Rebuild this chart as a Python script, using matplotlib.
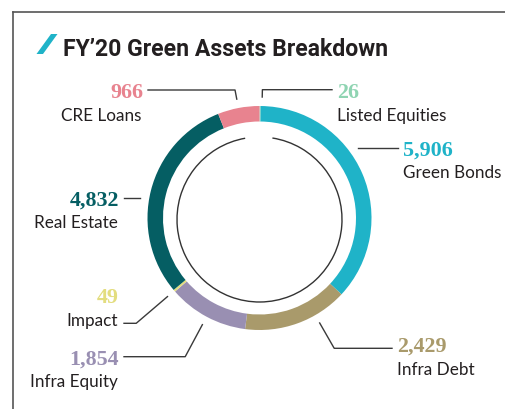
import numpy as np
import matplotlib
matplotlib.use("Agg")
import matplotlib.pyplot as plt
from matplotlib.patches import Arc, Polygon
from matplotlib.lines import Line2D

# ---- data ----
categories = ["Listed Equities", "Green Bonds", "Infra Debt", "Infra Equity",
              "Impact", "Real Estate", "CRE Loans"]
values = [26, 5906, 2429, 1854, 49, 4832, 966]
value_labels = ["26", "5,906", "2,429", "1,854", "49", "4,832", "966"]
colors = ["#8fd4b2", "#1fb3c8", "#a99a6b", "#998fb2", "#e3dd7f", "#055e63", "#e8838f"]
title = "FY\u201920 Green Assets Breakdown"

# ---- layout (pixel coordinates, y from top) ----
W, H = 505, 410
cx, cy = 259.5, 219.0
r_out, ring_w = 112.0, 15.5
r_inner_line = 82.5
r_anchor = 121.0
# side, text x, number baseline, label baseline, leader y, leader kind, angle offset
layout = {
    "Listed Equities": ("left", 337, 97.5, 120.7, 90.7, "radial", 1.0),
    "Green Bonds":     ("left", 403, 156.0, 178.5, 149.0, "flat", 0),
    "Infra Debt":      ("left", 397, 351.7, 375.0, 349.3, "radial", -10.0),
    "Infra Equity":    ("right", 119, 364.3, 386.7, 357.7, "radial", 0),
    "Impact":          ("right", 119, 303.3, 326.0, 324.3, "radial", 0),
    "Real Estate":     ("right", 119, 206.0, 228.3, 199.3, "flat", 0),
    "CRE Loans":       ("right", 143, 97.7, 120.7, 91.0, "radial", 0),
}

fig = plt.figure(figsize=(W / 100, H / 100), dpi=100)
ax = fig.add_axes([0, 0, 1, 1])

wedges, _ = ax.pie(values, colors=colors, startangle=-90, counterclock=True,
                   radius=r_out, center=(cx, cy),
                   wedgeprops=dict(width=ring_w, linewidth=0))
ax.set_xlim(0, W)
ax.set_ylim(H, 0)
ax.set_aspect("auto")
ax.axis("off")

# inner thin arc with a gap at the top
ax.add_patch(Arc((cx, cy + 1.5), 2 * r_inner_line, 2 * r_inner_line,
                 theta1=279, theta2=620, color="#333333", lw=1.0))

# frame lines
ax.add_line(Line2D([12.5, W], [12.5, 12.5], color="#555555", lw=1.2))
ax.add_line(Line2D([12.5, 12.5], [12.5, H], color="#555555", lw=1.2))

# title with slash mark
ax.add_patch(Polygon([(36.5, 55), (43, 55), (57.5, 35), (51, 35)], closed=True,
                     color="#1fb3c8", lw=0))
ax.text(63, 56, title, fontsize=16.6, fontweight="bold", family="Roboto",
        color="#231f20", ha="left", va="baseline")

num_font = dict(family="Liberation Serif", fontweight="bold", fontsize=15.8)
lab_font = dict(family="Lato", fontsize=12.3, color="#231f20")
line_col = "#3a3a3a"

for w, cat, vl, col in zip(wedges, categories, value_labels, colors):
    side, tx, ny, ly, ldy, kind, off = layout[cat]
    ha = "left" if side == "left" else "right"
    ax.text(tx, ny, vl, color=col, ha=ha, va="baseline", **num_font)
    ax.text(tx if side == "left" else tx - 1.5, ly, cat, ha=ha, va="baseline", **lab_font)
    # leader line
    tip_x = tx - 5 if side == "left" else tx + 5
    if kind == "flat":
        dy = ldy - cy
        dx = np.sqrt(r_anchor ** 2 - dy ** 2)
        sx = cx + dx if side == "left" else cx - dx
        ax.add_line(Line2D([sx, tip_x], [ldy, ldy], color=line_col, lw=1.0))
    else:
        th = np.deg2rad(0.5 * (w.theta1 + w.theta2) + off)
        ax_ = cx + r_anchor * np.cos(th)
        ay_ = cy + r_anchor * np.sin(th)
        # extend along the ray until it meets the leader row
        t = (ldy - cy) / np.sin(th)
        ex = cx + t * np.cos(th)
        ax.add_line(Line2D([ax_, ex, tip_x], [ay_, ldy, ldy], color=line_col, lw=1.0))

fig.savefig("out.png", dpi=100)
